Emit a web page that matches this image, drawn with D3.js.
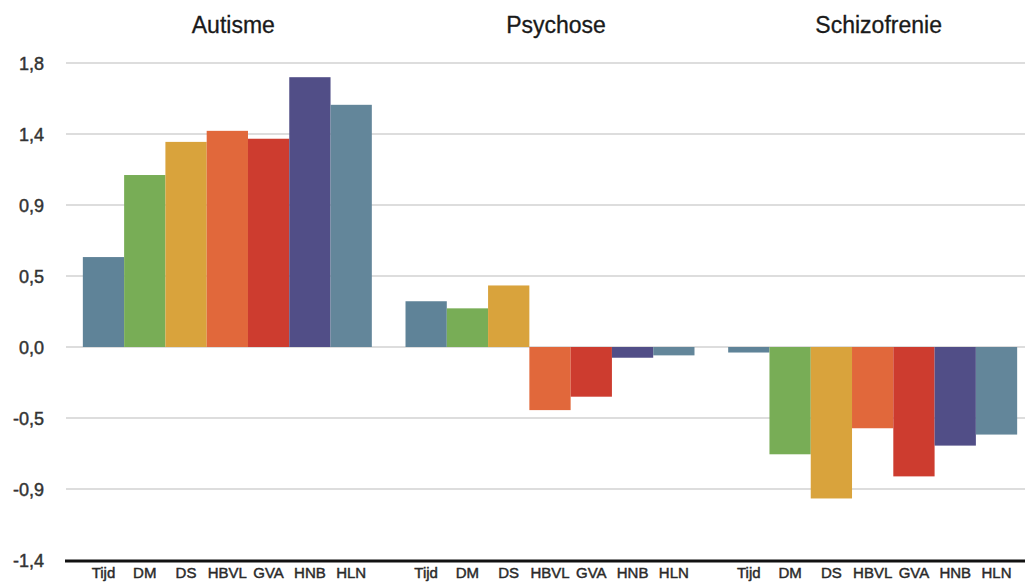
<!DOCTYPE html>
<html>
<head>
<meta charset="utf-8">
<script src="https://cdn.jsdelivr.net/npm/d3@7"></script>
<style>
  html, body { margin: 0; padding: 0; background: #fff; }
  svg { display: block; font-family: "Liberation Sans", Arial, Helvetica, sans-serif; }
</style>
</head>
<body>
<svg id="chart" width="1025" height="585"></svg>
<script>
const groups = ["Autisme", "Psychose", "Schizofrenie"];
const series = ["Tijd", "DM", "DS", "HBVL", "GVA", "HNB", "HLN"];
const autisme      = [0.57, 1.09, 1.30, 1.37, 1.32, 1.71, 1.535];
const psychose     = [0.29, 0.245, 0.39, -0.40, -0.315, -0.068, -0.053];
const schizofrenie = [-0.035, -0.68, -0.96, -0.515, -0.82, -0.625, -0.555];
const tickValues = [1.8, 1.35, 0.9, 0.45, 0, -0.45, -0.9, -1.35];
const tickLabels = ["1,8", "1,4", "0,9", "0,5", "0,0", "-0,5", "-0,9", "-1,4"];
const colors = ["#5f8398", "#78ad56", "#d9a33c", "#e1683b", "#cd3c2f", "#514e87", "#63869a"];

(function () {
const valuesByGroup = [autisme, psychose, schizofrenie];
const data = groups.map((g, gi) => ({
  group: g,
  bars: series.map((s, si) => ({ series: s, value: valuesByGroup[gi][si] }))
}));

const svg = d3.select("#chart");
const mLeft = 66, mRight = 1034, mTop = 63, mBottom = 560;

const x0 = d3.scaleBand().domain(groups).range([mLeft, mRight])
  .paddingInner(0.1044).paddingOuter(0.0522);
const x1 = d3.scaleBand().domain(series).range([0, x0.bandwidth()]).padding(0);
const y = d3.scaleLinear().domain([-1.35, 1.8]).range([mBottom, mTop]);
const color = d3.scaleOrdinal().domain(series).range(colors);

// gridlines
svg.append("g").selectAll("line")
  .data(tickValues.filter(v => v !== -1.35))
  .join("line")
  .attr("x1", mLeft).attr("x2", 1025)
  .attr("y1", d => y(d)).attr("y2", d => y(d))
  .attr("stroke", "#d2d2d2").attr("stroke-width", 1.5);

// y tick labels via axis
const yAxis = d3.axisLeft(y).tickValues(tickValues)
  .tickFormat((d, i) => tickLabels[i]).tickSize(0).tickPadding(0);
const ya = svg.append("g").attr("transform", "translate(44,0)").call(yAxis);
ya.select(".domain").remove();
ya.selectAll("text")
  .attr("font-size", 18).attr("fill", "#333")
  .attr("stroke", "#333").attr("stroke-width", 0.45)
  .attr("font-family", "Liberation Sans, Arial, sans-serif")
  .attr("dy", "0.35em");

// bars
const gGroups = svg.append("g").selectAll("g")
  .data(data).join("g")
  .attr("transform", d => `translate(${x0(d.group)},0)`);

gGroups.selectAll("rect")
  .data(d => d.bars).join("rect")
  .attr("x", d => x1(d.series))
  .attr("width", x1.bandwidth())
  .attr("y", d => y(Math.max(0, d.value)))
  .attr("height", d => Math.abs(y(d.value) - y(0)))
  .attr("fill", d => color(d.series));

// group titles
gGroups.append("text")
  .attr("x", x0.bandwidth() / 2 + 6)
  .attr("y", 33)
  .attr("text-anchor", "middle")
  .attr("font-size", 23)
  .attr("fill", "#1a1a1a")
  .attr("stroke", "#1a1a1a").attr("stroke-width", 0.3)
  .text(d => d.group);

// x labels
gGroups.selectAll("text.xl")
  .data(d => d.bars).join("text")
  .attr("class", "xl")
  .attr("x", d => x1(d.series) + x1.bandwidth() / 2)
  .attr("y", 578)
  .attr("text-anchor", "middle")
  .attr("font-size", 15)
  .attr("fill", "#2a2a2a")
  .attr("stroke", "#2a2a2a").attr("stroke-width", 0.45)
  .text(d => d.series);

// bottom axis line
svg.append("line")
  .attr("x1", mLeft - 1).attr("x2", 1025)
  .attr("y1", y(-1.35) + 1).attr("y2", y(-1.35) + 1)
  .attr("stroke", "#111").attr("stroke-width", 3);
})();
</script>
</body>
</html>
